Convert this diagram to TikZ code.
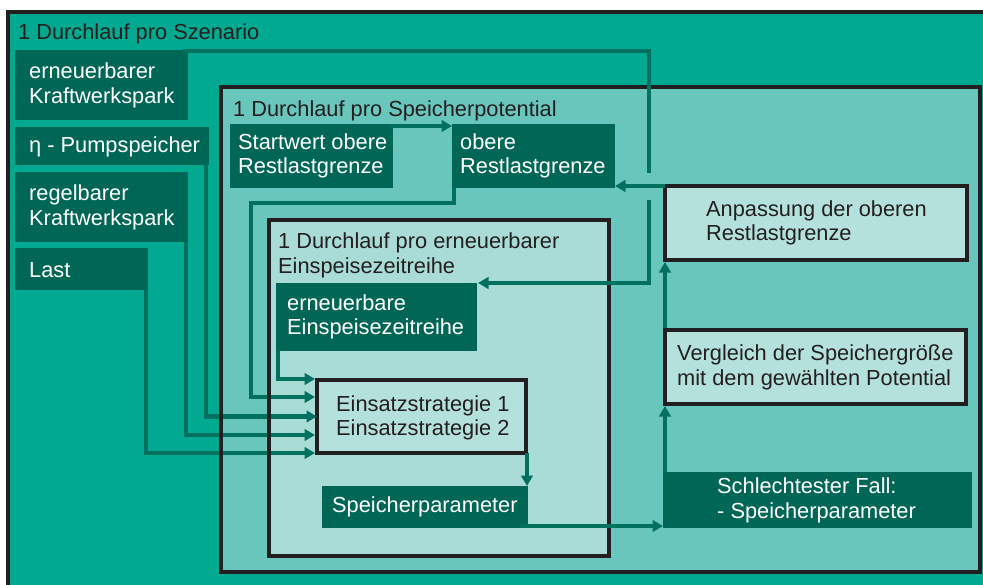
\documentclass[tikz,border=0pt]{standalone}
\usepackage{fontspec}
\setmainfont{Liberation Sans}
\usetikzlibrary{arrows.meta}
\definecolor{outerc}{HTML}{00A98F}
\definecolor{midc}{HTML}{68C6BC}
\definecolor{innerc}{HTML}{A9DBD7}
\definecolor{lightc}{HTML}{B5E1DD}
\definecolor{darkc}{HTML}{006656}
\definecolor{linec}{HTML}{00715F}
\definecolor{borderc}{HTML}{231F20}
\newcommand\bx[6]{\node[#1, minimum width={#5-#3}, minimum height={#6-#4}, anchor=north west] (#2) at (#3,#4) {};}
\begin{document}
\begin{tikzpicture}[x=1pt,y=-1pt,
  boxbase/.style={rectangle, inner sep=0pt, outer sep=0pt},
  darkbox/.style={boxbase, fill=darkc},
  fillbox/.style={boxbase, fill=#1},
  lightbox/.style={boxbase, fill=lightc, draw=borderc, line width=4.5pt},
  frame/.style={draw=borderc, line width=4.5pt},
  conn/.style={draw=linec, line width=4.5pt, line join=miter},
  arr/.style={conn, -{Triangle[length=10.5pt,width=11.5pt]}},
  wtxt/.style={anchor=base west, inner sep=0pt, text=white, font=\fontsize{21.8}{25}\selectfont},
  ktxt/.style={anchor=base west, inner sep=0pt, text=borderc, font=\fontsize{21.8}{25}\selectfont}]
\useasboundingbox (0,0) rectangle (983,584);
\clip (0,0) rectangle (983,584);
\fill[white] (0,0) rectangle (983,584);
\draw[line width=4pt, draw=borderc, fill=outerc] (8,11.5) rectangle (1000,600);

% left input boxes
\bx{darkbox}{ekw}{15}{50}{188}{120}
\bx{darkbox}{pump}{15}{127}{209}{165}
\bx{darkbox}{rkw}{15}{172}{188}{242}
\bx{darkbox}{last}{15}{248}{148}{290}

% nested loop areas (fills)
\bx{fillbox=midc}{mid}{221}{87}{980}{572}
\bx{fillbox=innerc}{inner}{269}{220}{609}{556}

% boxes inside
\bx{darkbox}{start}{230}{124}{393}{188}
\bx{darkbox}{obere}{452}{124}{615}{188}
\bx{darkbox}{eez}{276}{283}{477}{351}
\bx{darkbox}{spar}{322}{486}{528}{528}
\bx{darkbox}{schlecht}{663}{472}{972}{528}
\bx{lightbox}{einsatz}{317}{380}{526}{453}
\bx{lightbox}{anpassung}{665}{186}{967}{260}
\bx{lightbox}{vergleich}{665}{330}{966}{404}

% connectors running under the frames
\draw[arr] ([xshift=-3pt]pump.south east) |- (einsatz.west);
\draw[arr] ([xshift=-2pt]rkw.south east) |- ([xshift=-2pt,yshift=18pt]einsatz.south west);
\draw[arr] ([xshift=-2pt]last.south east) |- ([xshift=-2pt]einsatz.south west);
\draw[arr] ([xshift=2pt]obere.south west) -- ++(0,15) -- ++(-203,0) |- ([xshift=-2pt,yshift=-17pt]einsatz.north west);
\draw[arr] ([xshift=2pt]eez.south west) |- ([xshift=-2pt,yshift=1pt]einsatz.north west);

% frames
\draw[frame] (mid.north west) rectangle (mid.south east);
\draw[frame] (inner.north west) rectangle (inner.south east);

% connectors on top
\draw[arr] ([xshift=-5pt,yshift=-1pt]ekw.north east) -- ++(466,0) |- ([xshift=1pt]eez.north east);
\draw[arr] ([xshift=-4pt,yshift=-2pt]start.north east) -- ([yshift=-2pt]obere.north west);
\draw[arr] ([xshift=1pt]einsatz.south east) -- ([xshift=-1pt]spar.north east);
\draw[arr] ([xshift=-8pt,yshift=2pt]spar.south east) -- ([yshift=2pt]schlecht.south west);
\draw[arr] ([xshift=2pt]schlecht.north west) -- ([yshift=-2pt]vergleich.south west);
\draw[arr] ([yshift=2pt]vergleich.north west) -- ([yshift=-2pt]anpassung.south west);
\fill[midc] (644,173) rectangle (654,200);
\draw[arr] (anpassung.north west) -- ([yshift=2pt]obere.south east);

% texts
\node[ktxt] (tsz) at (18,39) {1 Durchlauf pro Szenario};
\node[wtxt] (tekw1) at (29,78) {erneuerbarer};
\node[wtxt] (tekw2) at (29,103) {Kraftwerkspark};
\node[wtxt] (tpump) at (29,152) {η - Pumpspeicher};
\node[wtxt] (trkw1) at (29,200) {regelbarer};
\node[wtxt] (trkw2) at (29,225) {Kraftwerkspark};
\node[wtxt] (tlast) at (29,277) {Last};
\node[ktxt] (tsp) at (233,116) {1 Durchlauf pro Speicherpotential};
\node[wtxt] (tstart1) at (238,149) {Startwert obere};
\node[wtxt] (tstart2) at (238,173) {Restlastgrenze};
\node[wtxt] (tobere1) at (460,149) {obere};
\node[wtxt] (tobere2) at (460,173) {Restlastgrenze};
\node[ktxt] (tin1) at (278,248) {1 Durchlauf pro erneuerbarer};
\node[ktxt] (tin2) at (278,273) {Einspeisezeitreihe};
\node[wtxt] (teez1) at (287,310) {erneuerbare};
\node[wtxt] (teez2) at (287,334) {Einspeisezeitreihe};
\node[ktxt] (tein1) at (336,411) {Einsatzstrategie 1};
\node[ktxt] (tein2) at (336,435) {Einsatzstrategie 2};
\node[wtxt] (tspar) at (332,512) {Speicherparameter};
\node[ktxt] (tanp1) at (706,216) {Anpassung der oberen};
\node[ktxt] (tanp2) at (706,240) {Restlastgrenze};
\node[ktxt] (tver1) at (677,360) {Vergleich der Speichergröße};
\node[ktxt] (tver2) at (677,385) {mit dem gewählten Potential};
\node[wtxt] (tsch1) at (717,493) {Schlechtester Fall:};
\node[wtxt] (tsch2) at (717,518) {- Speicherparameter};
\end{tikzpicture}
\end{document}
